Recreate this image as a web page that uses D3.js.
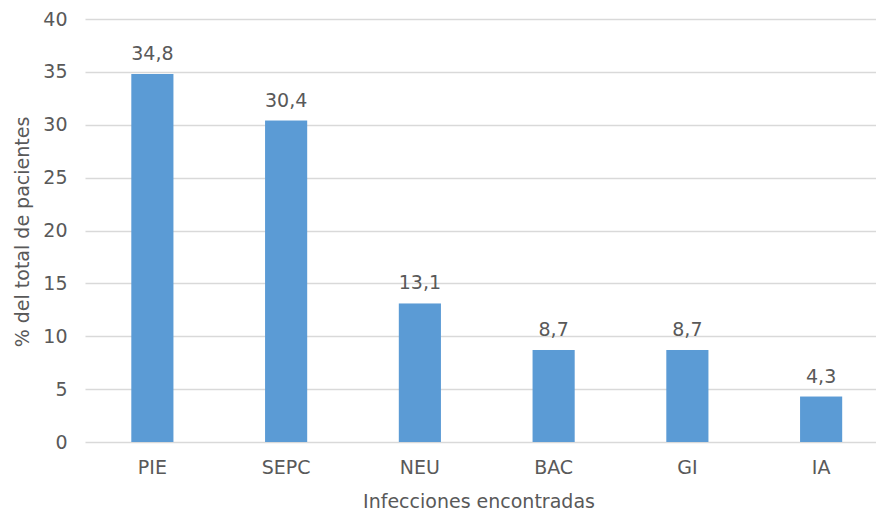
<!DOCTYPE html>
<html>
<head>
<meta charset="utf-8">
<script src="https://cdn.jsdelivr.net/npm/d3@7/dist/d3.min.js"></script>
<style>
  html, body { margin: 0; padding: 0; background: #fff; }
  svg { display: block; }
  text { font-family: "DejaVu Sans", Verdana, sans-serif; fill: #595959; }
</style>
</head>
<body>
<svg id="chart" width="876" height="514"></svg>
<script>
// Infection types and share of total patients (%)
const categories = ["PIE", "SEPC", "NEU", "BAC", "GI", "IA"];
const values = [34.8, 30.4, 13.1, 8.7, 8.7, 4.3];
const yTicks = [0, 5, 10, 15, 20, 25, 30, 35, 40];
const xTitle = "Infecciones encontradas";
const yTitle = "% del total de pacientes";

const svg = d3.select("#chart");
const plotLeft = 85.5, plotRight = 888, plotTop = 19, plotBottom = 442;
const fontSize = "19px";

const x = d3.scaleBand()
  .domain(categories)
  .range([plotLeft, plotRight])
  .paddingInner(0.685)
  .paddingOuter(0.3425);

const y = d3.scaleLinear().domain([0, 40]).range([plotBottom, plotTop]);

const fmt = v => d3.format(".1f")(v).replace(".", ",");

// Horizontal gridlines
svg.append("g")
  .selectAll("line")
  .data(yTicks)
  .join("line")
  .attr("x1", plotLeft).attr("x2", plotRight)
  .attr("y1", d => Math.round(y(d)) + 0.5)
  .attr("y2", d => Math.round(y(d)) + 0.5)
  .attr("stroke", "#d9d9d9")
  .attr("stroke-width", 1.3);

// Y axis tick labels
const yAxis = svg.append("g")
  .attr("transform", `translate(${plotLeft},0)`)
  .call(d3.axisLeft(y).tickValues(yTicks).tickSize(0).tickPadding(18));
yAxis.select(".domain").remove();
yAxis.selectAll("text")
  .style("font-size", fontSize)
  .attr("fill", "#595959")
  .style("font-family", "'DejaVu Sans', Verdana, sans-serif");

// Bars
svg.append("g")
  .selectAll("rect")
  .data(values)
  .join("rect")
  .attr("x", (d, i) => x(categories[i]))
  .attr("width", x.bandwidth())
  .attr("y", d => y(d))
  .attr("height", d => y(0) - y(d))
  .attr("fill", "#5b9bd5");

// Value labels
svg.append("g")
  .selectAll("text")
  .data(values)
  .join("text")
  .attr("x", (d, i) => x(categories[i]) + x.bandwidth() / 2)
  .attr("y", d => y(d) - 14)
  .attr("text-anchor", "middle")
  .style("font-size", fontSize)
  .text(d => fmt(d));

// X axis category labels
const xAxis = svg.append("g")
  .attr("transform", `translate(0,${plotBottom})`)
  .call(d3.axisBottom(x).tickSize(0).tickPadding(19));
xAxis.select(".domain").remove();
xAxis.selectAll("text")
  .style("font-size", fontSize)
  .attr("fill", "#595959")
  .style("font-family", "'DejaVu Sans', Verdana, sans-serif");

// Axis titles
svg.append("text")
  .attr("x", 479)
  .attr("y", 508)
  .attr("text-anchor", "middle")
  .style("font-size", fontSize)
  .text(xTitle);

svg.append("text")
  .attr("transform", `translate(29,232) rotate(-90)`)
  .attr("text-anchor", "middle")
  .style("font-size", fontSize)
  .text(yTitle);
</script>
</body>
</html>
